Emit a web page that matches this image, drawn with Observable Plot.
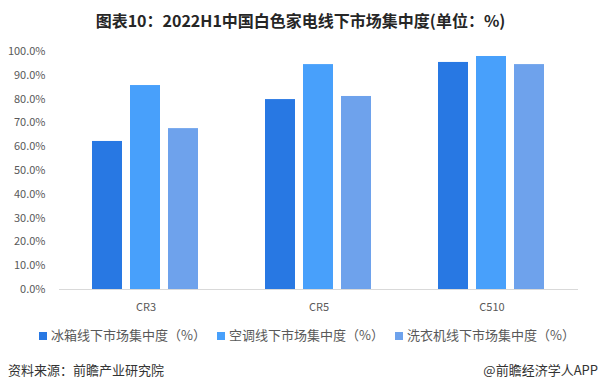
<!DOCTYPE html>
<html>
<head>
<meta charset="utf-8">
<script src="https://cdn.jsdelivr.net/npm/d3@7"></script>
<script src="https://cdn.jsdelivr.net/npm/@observablehq/plot@0.6"></script>
<style>
  html, body { margin: 0; padding: 0; background: #fff; }
  body { width: 601px; height: 388px; position: relative; overflow: hidden; font-family: "Noto Sans CJK SC", "Noto Sans", sans-serif; }
  #title { position: absolute; left: 0; top: 8px; width: 601px; text-align: center; font-size: 16px; font-weight: bold; color: #262626; line-height: 24px; }
  #chart { position: absolute; left: 0; top: 36px; }
  .leg { position: absolute; top: 326px; font-size: 13px; color: #595959; line-height: 18px; white-space: nowrap; }
  .sw { display: inline-block; width: 8px; height: 8px; margin-right: 4px; vertical-align: 0px; }
  #src { position: absolute; left: 8px; top: 361px; font-size: 13px; color: #333; line-height: 18px; }
  #brand { position: absolute; right: 3px; top: 361px; font-size: 13px; color: #333; line-height: 18px; }
</style>
</head>
<body>
<div id="title">图表10：2022H1中国白色家电线下市场集中度(单位：%)</div>
<div id="chart"></div>
<div id="legend"></div>
<div id="src">资料来源：前瞻产业研究院</div>
<div id="brand">@前瞻经济学人APP</div>
<script>
const categories = ["CR3", "CR5", "C510"];
const seriesNames = ["冰箱线下市场集中度（%）", "空调线下市场集中度（%）", "洗衣机线下市场集中度（%）"];
const fridge = [62.2, 79.8, 95.4];
const aircon = [85.7, 94.5, 97.9];
const washer = [67.6, 81.1, 94.5];
const colors = ["#2878E3", "#48A0FB", "#6EA2EC"];
const yTicks = [0, 10, 20, 30, 40, 50, 60, 70, 80, 90, 100];

const seriesValues = [fridge, aircon, washer];
const data = [];
categories.forEach((c, i) => {
  seriesNames.forEach((s, j) => data.push({category: c, series: s, value: seriesValues[j][i]}));
});

const chart = Plot.plot({
  width: 601,
  height: 284,
  marginTop: 15,
  marginBottom: 31,
  marginLeft: 58,
  marginRight: 23,
  style: {fontFamily: "'Noto Sans CJK SC', 'Noto Sans', sans-serif", fontSize: "11px", color: "#595959", background: "#fff"},
  fx: {domain: categories, padding: 0, label: null, axis: "bottom", tickSize: 0, tickPadding: 14},
  x: {domain: seriesNames, paddingInner: 0.2, paddingOuter: 0.87, axis: null},
  y: {domain: [0, 100], ticks: yTicks, tickFormat: d => d.toFixed(1) + "%", label: null, tickSize: 0, tickPadding: 14},
  color: {domain: seriesNames, range: colors},
  marks: [
    Plot.barY(data, {fx: "category", x: "series", y: "value", fill: "series"}),
    Plot.ruleY([0], {stroke: "#d9d9d9", strokeWidth: 1})
  ]
});
document.getElementById("chart").appendChild(chart);

const legendPos = [39, 217, 395];
const legend = document.getElementById("legend");
seriesNames.forEach((s, i) => {
  const d = document.createElement("div");
  d.className = "leg";
  d.style.left = legendPos[i] + "px";
  d.innerHTML = `<span class="sw" style="background:${colors[i]}"></span>${s}`;
  legend.appendChild(d);
});
</script>
</body>
</html>
